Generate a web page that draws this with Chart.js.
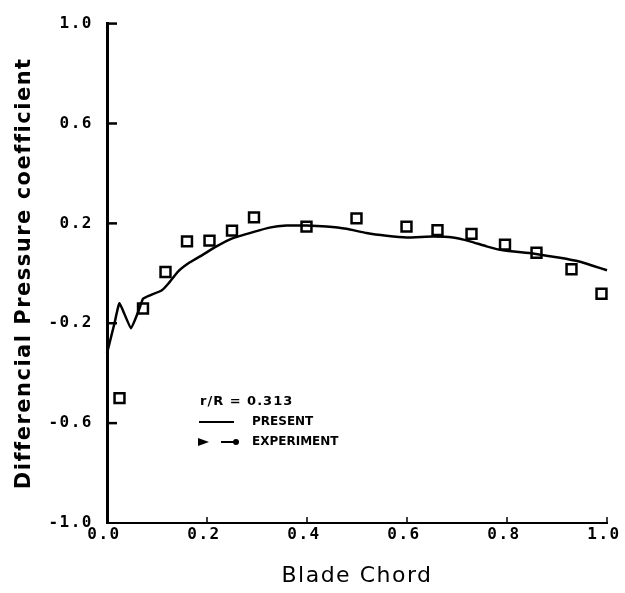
<!DOCTYPE html>
<html>
<head>
<meta charset="utf-8">
<title>Differencial Pressure coefficient</title>
<script src="https://cdn.jsdelivr.net/npm/chart.js@4.4.1/dist/chart.umd.min.js"></script>
<style>
  html, body { margin: 0; padding: 0; background: #fff; }
  #wrap { width: 625px; height: 593px; position: relative; }
</style>
</head>
<body>
<div id="wrap"><canvas id="pressure-chart"></canvas></div>
<script>
// ==================================================================
//
// Data
//
// ==================================================================

const presentX = [0.0, 0.015, 0.025, 0.048, 0.065, 0.072, 0.085, 0.109, 0.122, 0.142, 0.165, 0.192, 0.219, 0.252, 0.292, 0.325, 0.359, 0.399, 0.439, 0.479, 0.519, 0.559, 0.599, 0.652, 0.692, 0.726, 0.759, 0.792, 0.852, 0.906, 0.946, 0.973, 1.0];
const presentY = [-0.32, -0.2, -0.12, -0.22, -0.14, -0.102, -0.089, -0.069, -0.043, 0.007, 0.043, 0.075, 0.108, 0.141, 0.165, 0.183, 0.191, 0.191, 0.187, 0.178, 0.161, 0.15, 0.143, 0.147, 0.143, 0.128, 0.108, 0.092, 0.079, 0.062, 0.046, 0.029, 0.012];

const experimentX = [0.025, 0.072, 0.117, 0.16, 0.205, 0.25, 0.294, 0.399, 0.499, 0.599, 0.661, 0.729, 0.796, 0.859, 0.929, 0.989];
const experimentY = [-0.5, -0.141, 0.005, 0.128, 0.131, 0.171, 0.224, 0.187, 0.22, 0.187, 0.173, 0.158, 0.115, 0.082, 0.016, -0.082];

const xTicks = [0.0, 0.2, 0.4, 0.6, 0.8, 1.0];
const yTicks = [-1.0, -0.6, -0.2, 0.2, 0.6, 1.0];

const toPoints = (xs, ys) => xs.map((x, i) => ({ x: x, y: ys[i] }));

// ==================================================================
//
// Plugin for inner ticks, wide lettering and the legend
//
// ==================================================================

const innerTicks = {
  id: "innerTicks",
  beforeDraw(chart) {
    // the scanned lettering is spaced out
    chart.ctx.letterSpacing = "1.5px";
  },
  afterDraw(chart) {
    let ctx = chart.ctx;
    let xs = chart.scales.x;
    let ys = chart.scales.y;
    let area = chart.chartArea;
    ctx.save();
    ctx.strokeStyle = "#000";

    // y axis ticks, pointing right
    ctx.lineWidth = 2.5;
    yTicks.forEach((v) => {
      if (v === -1.0) return;
      let py = ys.getPixelForValue(v);
      ctx.beginPath();
      ctx.moveTo(area.left, py);
      ctx.lineTo(area.left + 10, py);
      ctx.stroke();
    });

    // x axis ticks, pointing up
    ctx.lineWidth = 1.5;
    xTicks.forEach((v) => {
      if (v === 0) return;
      let px = xs.getPixelForValue(v);
      ctx.beginPath();
      ctx.moveTo(px, area.bottom);
      ctx.lineTo(px, area.bottom - 6);
      ctx.stroke();
    });

    // legend
    ctx.fillStyle = "#000";
    ctx.textBaseline = "middle";
    ctx.letterSpacing = "1px";
    ctx.font = "bold 13px 'DejaVu Sans'";
    ctx.fillText("r/R = 0.313", 200, 402);
    ctx.letterSpacing = "0px";
    ctx.font = "bold 12px 'DejaVu Sans'";
    ctx.fillText("PRESENT", 252, 422);
    ctx.fillText("EXPERIMENT", 252, 442);

    ctx.lineWidth = 2;
    ctx.beginPath();
    ctx.moveTo(199, 422);
    ctx.lineTo(234, 422);
    ctx.stroke();

    ctx.beginPath();
    ctx.moveTo(198, 438);
    ctx.lineTo(209, 442);
    ctx.lineTo(198, 446);
    ctx.closePath();
    ctx.fill();
    ctx.beginPath();
    ctx.moveTo(221, 442);
    ctx.lineTo(234, 442);
    ctx.stroke();
    ctx.beginPath();
    ctx.arc(236, 442, 3, 0, Math.PI * 2);
    ctx.fill();
    ctx.restore();
  },
};

// ==================================================================
//
// Chart
//
// ==================================================================

let pressureChart = document.getElementById("pressure-chart").getContext("2d");

const tickFont = { family: "'DejaVu Sans Mono'", size: 16, weight: "bold" };

let myChart = new Chart(pressureChart, {
  type: "scatter",
  data: {
    datasets: [
      {
        label: "PRESENT",
        data: toPoints(presentX, presentY),
        showLine: true,
        borderColor: "#000",
        borderWidth: 2.5,
        pointRadius: 0,
        tension: 0.12,
        fill: false,
      },
      {
        label: "EXPERIMENT",
        data: toPoints(experimentX, experimentY),
        showLine: false,
        pointStyle: "rect",
        pointRadius: 7,
        pointBorderWidth: 2.5,
        pointBorderColor: "#000",
        pointBackgroundColor: "#fff",
      },
    ],
  },
  options: {
    responsive: true,
    maintainAspectRatio: false,
    animation: false,
    clip: false,
    layout: { padding: { top: 15, right: 18, left: 0, bottom: 0 } },
    plugins: {
      legend: { display: false },
      tooltip: { enabled: false },
    },
    scales: {
      x: {
        type: "linear",
        min: 0,
        max: 1,
        afterFit: (scale) => { scale.height = 70; },
        afterBuildTicks: (scale) => { scale.ticks = xTicks.map((v) => ({ value: v })); },
        border: { display: true, color: "#000", width: 2 },
        grid: { display: false, drawTicks: false },
        ticks: {
          color: "#000",
          font: tickFont,
          padding: 2,
          labelOffset: -3,
          callback: (v) => Number(v).toFixed(1),
        },
        title: {
          display: true,
          text: "Blade Chord",
          color: "#000",
          font: { family: "'DejaVu Sans'", size: 22 },
          padding: { top: 0, bottom: 4 },
        },
      },
      y: {
        type: "linear",
        min: -1,
        max: 1,
        afterFit: (scale) => { scale.width = 107; },
        afterBuildTicks: (scale) => { scale.ticks = yTicks.map((v) => ({ value: v })); },
        border: { display: true, color: "#000", width: 3 },
        grid: { display: false, drawTicks: false },
        ticks: {
          color: "#000",
          font: tickFont,
          padding: 14,
          callback: (v) => Number(v).toFixed(1),
        },
        title: {
          display: true,
          text: "Differencial Pressure coefficient",
          color: "#000",
          font: { family: "'DejaVu Sans'", size: 21, weight: "bold" },
          padding: { top: 12, bottom: 0 },
        },
      },
    },
  },
  plugins: [innerTicks],
});
</script>
</body>
</html>
